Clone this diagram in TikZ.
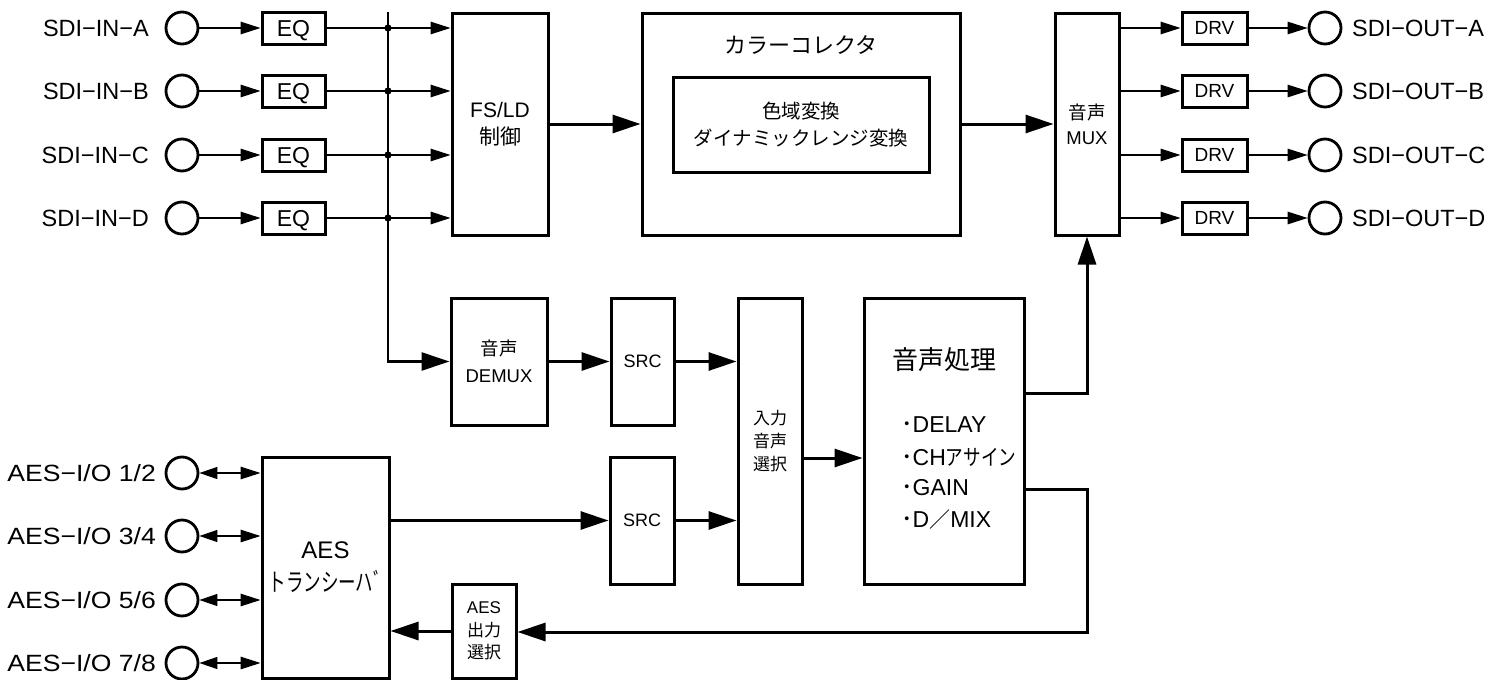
\documentclass[tikz,border=0pt]{standalone}
\usepackage{fontspec}
\setmainfont{Liberation Sans}
\newfontfamily\jp{Noto Sans CJK JP}
\usetikzlibrary{arrows.meta,calc}
\begin{document}
\begin{tikzpicture}[x=1pt,y=-1pt,
  box/.style={draw,line width=3pt,inner sep=0pt,align=center},
  port/.style={draw,circle,line width=2.8pt,minimum size=32pt,inner sep=0pt},
  thinar/.style={line width=1.3pt,-{Triangle[length=20pt,width=12.5pt]}},
  bidir/.style={line width=1.3pt,{Triangle[length=18pt,width=12pt]}-{Triangle[length=20pt,width=12.5pt]}},
  thickar/.style={line width=3pt,-{Triangle[length=28pt,width=18pt]}},
  busar/.style={line width=2.6pt,-{Triangle[length=28pt,width=18pt]}},
  lbl/.style={inner sep=0pt,font=\fontsize{23.5}{27}\selectfont},
  fA/.style={font=\fontsize{23}{26}\selectfont,text depth=0pt},
  fB/.style={font=\fontsize{19}{22}\selectfont},
  item/.style={inner sep=0pt,anchor=west,font=\fontsize{23}{26}\selectfont},
]
\path[fill=white] (0,0) rectangle (1505,680);
\useasboundingbox (0,0) rectangle (1505,680);

% SDI rows
\foreach \y/\l in {28/A,91/B,155/C,218/D}{
  \node[lbl,anchor=east] (inl\l) at (149,\y) {SDI−IN−\l};
  \node[port] (in\l) at (182,\y) {};
  \node[box,fA,minimum width=63pt,minimum height=32pt] (eq\l) at (293.5,\y) {EQ};
  \node[box,fB,minimum width=65pt,minimum height=32pt] (drv\l) at (1214.5,\y) {DRV};
  \node[port] (out\l) at (1325,\y) {};
  \node[lbl,anchor=west] (outl\l) at (1352,\y) {SDI−OUT−\l};
}

% upper blocks
\node[box,minimum width=96pt,minimum height=222pt,font=\fontsize{21}{27}\selectfont] (fsld) at (500,124) {FS/LD\\{\jp 制御}};
\node[box,minimum width=318pt,minimum height=222pt] (cc) at (801,124) {};
\node[box,minimum width=256pt,minimum height=95pt,font=\jp\fontsize{19.5}{27}\selectfont] (ccin) at (801,124.5) {色域変換\\ダイナミックレンジ変換};
\node[inner sep=0pt,font=\jp\fontsize{22}{26}\selectfont] (cctitle) at (801,45) {カラーコレクタ};
\node[box,minimum width=64pt,minimum height=222pt,font=\fontsize{18.5}{25}\selectfont] (mux) at (1087,124) {{\jp 音声}\\MUX};

% lower blocks
\node[box,minimum width=96pt,minimum height=127pt,font=\fontsize{18.5}{27}\selectfont] (demux) at (499,361.5) {{\jp 音声}\\DEMUX};
\node[box,minimum width=63pt,minimum height=127pt,font=\fontsize{18}{22}\selectfont] (srcA) at (642.5,361.5) {SRC};
\node[box,minimum width=64pt,minimum height=286pt,font=\jp\fontsize{17}{23}\selectfont] (sel) at (770,441) {入力\\音声\\選択};
\node[box,minimum width=160pt,minimum height=286pt] (proc) at (944,441) {};
\node[box,minimum width=64pt,minimum height=127pt,font=\fontsize{18}{22}\selectfont] (srcB) at (642,520.5) {SRC};
\node[box,minimum width=127pt,minimum height=221pt,font=\fontsize{24}{33}\selectfont] (aes) at (325.5,567.5) {AES\\\scalebox{0.7}[1]{\jp\fontsize{25}{33}\selectfont トランシーハﾞ}};
\node[box,minimum width=64pt,minimum height=94pt,font=\fontsize{17}{22.5}\selectfont] (aesout) at (484,631) {AES\\{\jp 出力}\\{\jp 選択}};

% processing text
\node[inner sep=0pt,font=\jp\fontsize{26}{30}\selectfont] (proct) at (944,360) {音声処理};
\node[item] (p1) at (901,425) {{\jp ･}DELAY};
\node[item] (p2) at (901,457) {{\jp ･}CH\scalebox{0.8}[1]{\jp\fontsize{22}{26}\selectfont アサイン}};
\node[item] (p3) at (901,488) {{\jp ･}GAIN};
\node[item] (p4) at (901,520) {{\jp ･}D{\jp\fontsize{21}{24}\selectfont ／}MIX};

% AES ports
\foreach \y/\l/\t in {473/1/1\slash 2,536/2/3\slash 4,600/3/5\slash 6,663/4/7\slash 8}{
  \node[lbl,anchor=east] (aesl\l) at (156,\y) {\scalebox{1.13}[1]{AES−I/O \t}};
  \node[port] (aesp\l) at (182,\y) {};
  \draw[bidir] (aesp\l.east) -- (aesp\l.east -| aes.west);
}

% SDI connectors
\coordinate (bustop) at (388,12);
\foreach \l in {A,B,C,D}{
  \draw[thinar] (in\l.east) -- (eq\l.west);
  \draw[thinar] (eq\l.east) -- (eq\l.east -| fsld.west);
  \fill (eq\l.east -| bustop) circle (3.6pt);
  \draw[thinar] (drv\l.west -| mux.east) -- (drv\l.west);
  \draw[thinar] (drv\l.east) -- (out\l.west);
}
\draw[busar] (bustop) |- (demux.west);

% main flow
\draw[thickar] (fsld.east) -- (cc.west);
\draw[thickar] (cc.east) -- (mux.west);
\draw[thickar] (demux.east) -- (srcA.west);
\draw[thickar] (srcA.east) -- (srcA.east -| sel.west);
\draw[thickar] (srcB.west -| aes.east) -- (srcB.west);
\draw[thickar] (srcB.east) -- (srcB.east -| sel.west);
\draw[thickar] ([yshift=-17pt]sel.east) -- ([yshift=-17pt]proc.west);
\draw[thickar] ([yshift=48pt]proc.east) -| (mux.south);
\coordinate (ret) at (1087,632);
\draw[thickar] ([yshift=-48pt]proc.east) -| (ret) -- (ret -| aesout.east);
\draw[thickar] (aesout.west) -- (aesout.west -| aes.east);
\end{tikzpicture}
\end{document}
